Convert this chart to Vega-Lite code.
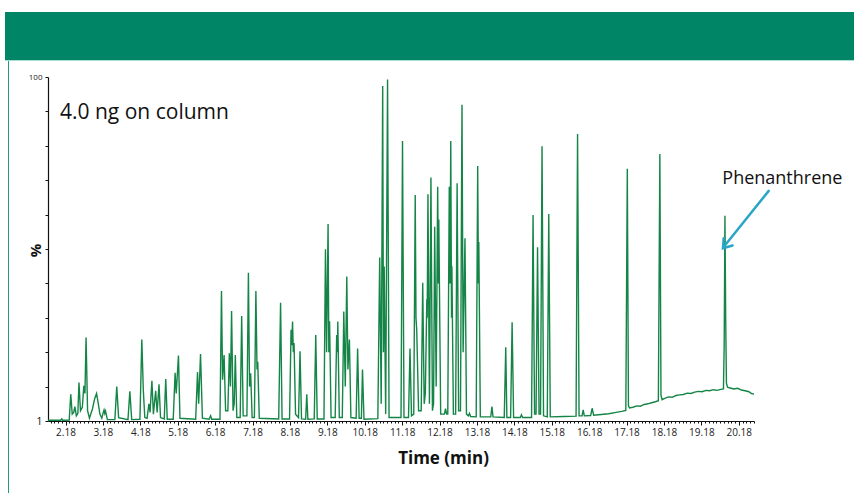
{
  "$schema": "https://vega.github.io/schema/vega-lite/v6.json",
  "padding": {"left": 5, "top": 12, "right": 0, "bottom": 0},
  "background": "white",
  "bounds": "flush",
  "spacing": 0,
  "config": {"view": {"stroke": null}, "font": "Open Sans"},
  "vconcat": [
    {"width": 849, "height": 48, "view": {"fill": "#008566", "stroke": null}, "data": {"values": []}, "mark": "point"},
    {"width": 849, "height": 1, "view": {"fill": "#a9ddd0", "stroke": null}, "data": {"values": []}, "mark": "point"},
    {
      "hconcat": [
        {"width": 3, "height": 432, "data": {"values": []}, "mark": "point"},
        {"width": 1, "height": 432, "view": {"fill": "#1f9c7f", "stroke": null}, "data": {"values": []}, "mark": "point"},
        {"width": 39, "height": 432, "data": {"values": []}, "mark": "point"},
        {
          "vconcat": [
            {"width": 1, "height": 16, "data": {"values": []}, "mark": "point"},
            {
              "width": 706,
              "height": 344,
              "layer": [
                {
                  "data": {"values": "t,v\n1.71,0.2\n2.05,0.2\n2.08,0.6\n2.11,0.2\n2.28,0.3\n2.32,7.8\n2.36,2.0\n2.40,2.5\n2.43,4.2\n2.47,1.5\n2.51,2.2\n2.54,11.2\n2.58,3.0\n2.63,4.0\n2.67,10.2\n2.70,8.0\n2.73,24.3\n2.77,3.0\n2.82,0.8\n2.90,3.5\n2.96,6.5\n3.01,8.0\n3.05,5.5\n3.10,2.0\n3.15,0.8\n3.19,2.5\n3.21,3.2\n3.23,2.2\n3.25,2.9\n3.30,0.4\n3.50,0.4\n3.55,10.0\n3.60,1.0\n3.85,0.4\n3.90,8.6\n3.95,0.4\n4.17,0.5\n4.22,23.7\n4.26,9.0\n4.30,1.0\n4.36,0.8\n4.41,5.0\n4.44,2.5\n4.49,11.7\n4.53,2.0\n4.59,8.8\n4.63,2.5\n4.68,10.7\n4.72,1.0\n4.82,0.6\n4.86,12.2\n4.90,0.5\n5.06,0.5\n5.11,14.0\n5.14,8.0\n5.20,19.0\n5.24,0.8\n5.66,0.5\n5.71,14.2\n5.74,5.0\n5.79,19.5\n5.84,0.8\n6.02,0.5\n6.06,1.5\n6.09,0.5\n6.31,0.5\n6.35,37.8\n6.38,12.0\n6.42,19.2\n6.46,3.0\n6.52,3.0\n6.56,19.7\n6.59,10.0\n6.62,32.0\n6.66,3.0\n6.69,5.0\n6.72,19.2\n6.76,1.0\n6.85,1.0\n6.89,30.5\n6.93,1.5\n7.03,1.5\n7.07,43.1\n7.10,10.0\n7.13,13.9\n7.17,1.0\n7.23,1.0\n7.27,37.8\n7.30,15.0\n7.32,17.2\n7.36,0.8\n7.88,0.6\n7.93,34.4\n7.97,0.6\n8.17,0.6\n8.21,26.5\n8.23,22.0\n8.25,28.9\n8.27,20.0\n8.29,22.7\n8.33,2.0\n8.41,1.0\n8.45,20.3\n8.49,0.6\n8.60,0.5\n8.63,7.8\n8.66,0.5\n8.83,0.6\n8.87,25.0\n8.91,0.6\n9.09,0.6\n9.13,49.9\n9.16,20.0\n9.20,57.3\n9.22,20.0\n9.24,29.0\n9.28,1.0\n9.39,1.0\n9.43,25.0\n9.45,20.0\n9.46,28.9\n9.50,1.0\n9.58,1.0\n9.62,31.8\n9.66,10.0\n9.70,42.0\n9.73,15.0\n9.77,23.7\n9.81,1.0\n9.95,0.8\n9.99,21.1\n10.03,0.8\n10.09,0.8\n10.12,15.0\n10.16,0.5\n10.53,0.7\n10.58,47.5\n10.62,5.0\n10.66,97.4\n10.68,20.0\n10.70,44.9\n10.74,2.0\n10.79,99.3\n10.83,1.0\n11.15,1.0\n11.19,81.4\n11.23,1.0\n11.35,1.0\n11.39,21.1\n11.43,1.5\n11.49,2.0\n11.53,65.7\n11.55,30.0\n11.57,26.5\n11.62,3.0\n11.69,3.0\n11.73,40.2\n11.77,5.0\n11.80,8.0\n11.84,35.4\n11.85,30.0\n11.87,65.9\n11.91,5.0\n11.95,70.8\n11.99,3.0\n12.02,5.0\n12.05,56.5\n12.09,10.0\n12.13,68.1\n12.15,40.0\n12.16,58.6\n12.21,2.0\n12.31,2.0\n12.34,3.6\n12.37,2.0\n12.40,2.0\n12.44,68.1\n12.46,40.0\n12.48,81.4\n12.50,30.0\n12.51,45.0\n12.55,2.0\n12.61,2.0\n12.65,69.1\n12.69,3.0\n12.74,3.0\n12.78,91.9\n12.81,20.0\n12.86,53.1\n12.90,2.0\n12.95,1.5\n12.98,2.2\n13.01,1.3\n13.16,1.2\n13.20,74.1\n13.22,40.0\n13.23,52.0\n13.27,1.2\n13.55,1.2\n13.58,4.2\n13.61,1.2\n13.91,1.0\n13.95,21.4\n13.98,1.0\n14.08,1.0\n14.12,28.7\n14.16,1.0\n14.34,1.0\n14.37,1.8\n14.40,1.0\n14.64,1.0\n14.68,59.9\n14.72,2.0\n14.76,2.0\n14.80,50.5\n14.84,2.0\n14.88,2.0\n14.92,79.9\n14.96,1.5\n15.06,1.2\n15.10,60.2\n15.14,1.2\n15.50,1.3\n15.83,1.4\n15.87,83.4\n15.91,1.5\n15.99,1.5\n16.02,3.2\n16.05,1.5\n16.22,1.6\n16.26,3.7\n16.30,1.7\n16.50,1.9\n16.70,2.1\n16.90,2.5\n17.05,2.8\n17.16,3.1\n17.20,73.3\n17.23,4.4\n17.26,3.8\n17.35,4.0\n17.45,4.4\n17.55,4.3\n17.65,4.8\n17.75,5.0\n17.85,5.3\n17.95,5.6\n18.03,5.9\n18.07,77.6\n18.10,7.5\n18.13,6.2\n18.20,6.6\n18.30,7.0\n18.40,6.9\n18.50,7.4\n18.60,7.6\n18.70,7.7\n18.80,8.1\n18.90,8.0\n19.00,8.4\n19.10,8.6\n19.20,8.5\n19.30,8.9\n19.40,8.8\n19.50,9.1\n19.60,8.9\n19.70,9.2\n19.77,9.3\n19.79,22.0\n19.81,59.7\n19.83,30.0\n19.85,11.0\n19.88,9.8\n19.95,9.6\n20.05,9.3\n20.15,9.5\n20.25,9.0\n20.35,8.8\n20.45,8.5\n20.52,8.0\n20.59,7.8", "format": {"type": "csv"}},
                  "mark": {"type": "line", "color": "#148546", "strokeWidth": 1.4, "clip": true},
                  "encoding": {
                    "x": {
                      "field": "t", "type": "quantitative",
                      "scale": {"domain": [1.712, 20.587], "nice": false, "zero": false},
                      "axis": {
                        "title": "Time (min)",
                        "titleFont": "Open Sans", "titleFontSize": 17, "titleFontWeight": "bold", "titleColor": "#111",
                        "titleX": 395, "titleY": 42, "titleAlign": "center", "titleBaseline": "alphabetic", "titleAnchor": null,
                        "tickCount": 1000,
                        "values": [1.78,1.88,1.98,2.08,2.18,2.28,2.38,2.48,2.58,2.68,2.78,2.88,2.98,3.08,3.18,3.28,3.38,3.48,3.58,3.68,3.78,3.88,3.98,4.08,4.18,4.28,4.38,4.48,4.58,4.68,4.78,4.88,4.98,5.08,5.18,5.28,5.38,5.48,5.58,5.68,5.78,5.88,5.98,6.08,6.18,6.28,6.38,6.48,6.58,6.68,6.78,6.88,6.98,7.08,7.18,7.28,7.38,7.48,7.58,7.68,7.78,7.88,7.98,8.08,8.18,8.28,8.38,8.48,8.58,8.68,8.78,8.88,8.98,9.08,9.18,9.28,9.38,9.48,9.58,9.68,9.78,9.88,9.98,10.08,10.18,10.28,10.38,10.48,10.58,10.68,10.78,10.88,10.98,11.08,11.18,11.28,11.38,11.48,11.58,11.68,11.78,11.88,11.98,12.08,12.18,12.28,12.38,12.48,12.58,12.68,12.78,12.88,12.98,13.08,13.18,13.28,13.38,13.48,13.58,13.68,13.78,13.88,13.98,14.08,14.18,14.28,14.38,14.48,14.58,14.68,14.78,14.88,14.98,15.08,15.18,15.28,15.38,15.48,15.58,15.68,15.78,15.88,15.98,16.08,16.18,16.28,16.38,16.48,16.58,16.68,16.78,16.88,16.98,17.08,17.18,17.28,17.38,17.48,17.58,17.68,17.78,17.88,17.98,18.08,18.18,18.28,18.38,18.48,18.58,18.68,18.78,18.88,18.98,19.08,19.18,19.28,19.38,19.48,19.58,19.68,19.78,19.88,19.98,20.08,20.18,20.28,20.38,20.48,20.58],
                        "labelExpr": "abs((round(datum.value*100) % 100) - 18) < 1 ? format(datum.value, '.2f') : ''",
                        "labelOverlap": false, "labelBound": false, "labelFlush": false,
                        "labelFont": "Open Sans", "labelFontSize": 10, "labelColor": "#222", "labelPadding": 2,
                        "tickColor": "#111", "domainColor": "#111", "domainWidth": 1.2,
                        "tickSize": {"condition": {"test": "abs((round(datum.value*100) % 100) - 18) < 1", "value": 4}, "value": 2},
                        "grid": false
                      }
                    },
                    "y": {
                      "field": "v", "type": "quantitative",
                      "scale": {"domain": [0, 100], "nice": false, "zero": false},
                      "axis": {
                        "title": "%", "titleFont": "Open Sans", "titleFontSize": 15, "titleFontWeight": "bold", "titleColor": "#111",
                        "titleAngle": -90, "titleX": -13, "titleY": 173, "titleAlign": "center", "titleBaseline": "middle", "titleAnchor": null,
                        "tickCount": 100,
                        "values": [0, 10, 20, 30, 40, 50, 60, 70, 80, 90, 100],
                        "labelExpr": "datum.value == 100 ? '100' : datum.value == 0 ? '1' : ''",
                        "labelFont": "Open Sans", "labelColor": "#222",
                        "labelFontSize": {"condition": {"test": "datum.value == 100", "value": 8}, "value": 11},
                        "labelPadding": 3, "labelOverlap": false, "labelBound": false, "labelFlush": false,
                        "tickSize": 3, "tickColor": "#111", "domainColor": "#111", "domainWidth": 1.2,
                        "grid": false
                      }
                    }
                  }
                },
                {
                  "data": {"values": [{}]},
                  "mark": {"type": "text", "text": "4.0 ng on column", "font": "Open Sans", "fontSize": 21, "color": "#111", "align": "left", "baseline": "alphabetic"},
                  "encoding": {"x": {"datum": 2.033, "type": "quantitative"}, "y": {"datum": 87.8, "type": "quantitative"}}
                },
                {
                  "data": {"values": [{}]},
                  "mark": {"type": "text", "text": "Phenanthrene", "font": "Open Sans", "fontSize": 18, "color": "#111", "align": "left", "baseline": "alphabetic"},
                  "encoding": {"x": {"datum": 19.74, "type": "quantitative"}, "y": {"datum": 68.9, "type": "quantitative"}}
                },
                {
                  "data": {"values": [{}]},
                  "mark": {"type": "rule", "color": "#2ba6c6", "strokeWidth": 2.5, "strokeCap": "round"},
                  "encoding": {"x": {"datum": 20.98, "type": "quantitative"}, "y": {"datum": 66.9, "type": "quantitative"}, "x2": {"datum": 19.77}, "y2": {"datum": 50.5}}
                },
                {
                  "data": {"values": [{}]},
                  "mark": {"type": "point", "shape": "M-0.57,0.82L0,0L0.57,0.82", "filled": false, "color": "#2ba6c6", "strokeWidth": 2.5, "size": 400, "angle": 218.5, "opacity": 1, "strokeCap": "round", "strokeJoin": "miter"},
                  "encoding": {"x": {"datum": 19.758, "type": "quantitative"}, "y": {"datum": 50.2, "type": "quantitative"}}
                }
              ]
            }
          ],
          "spacing": 0,
          "bounds": "flush"
        }
      ],
      "spacing": 0,
      "bounds": "flush"
    }
  ]
}
